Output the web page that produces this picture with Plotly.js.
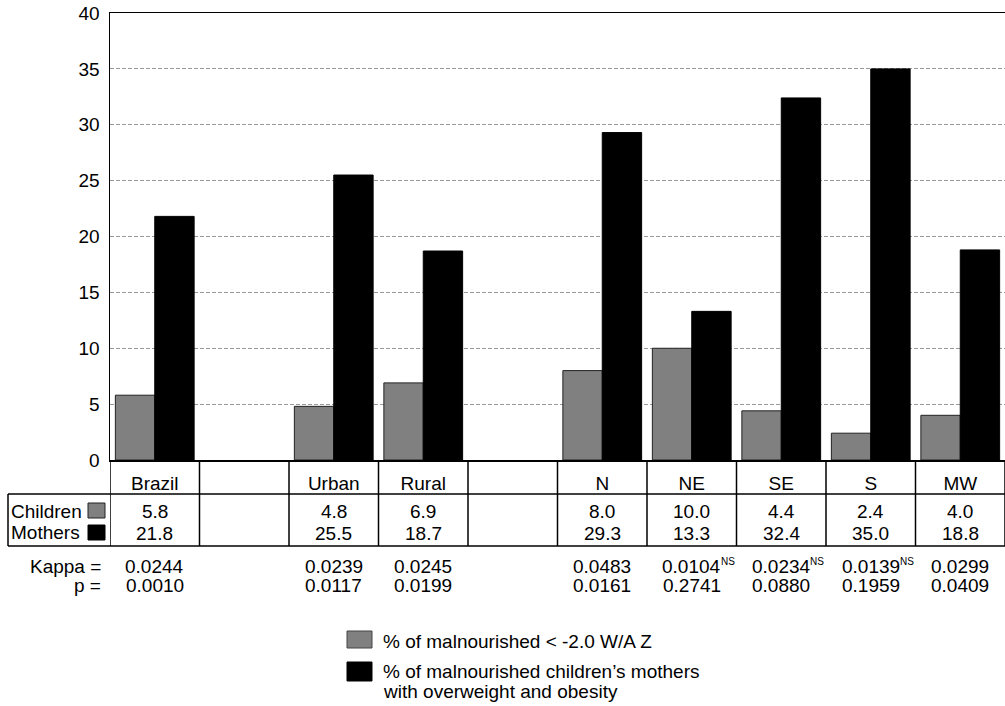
<!DOCTYPE html>
<html>
<head>
<meta charset="utf-8">
<script src="https://cdn.plot.ly/plotly-3.0.1.min.js"></script>
<style>
  html, body { margin: 0; padding: 0; background: #fff; }
  #chart { width: 1005px; height: 706px; }
</style>
</head>
<body>
<div id="chart"></div>
<script>
// ---- data ----
var categories = ["Brazil", " ", "Urban", "Rural", "  ", "N", "NE", "SE", "S", "MW"];
var children = [5.8, null, 4.8, 6.9, null, 8.0, 10.0, 4.4, 2.4, 4.0];
var mothers = [21.8, null, 25.5, 18.7, null, 29.3, 13.3, 32.4, 35.0, 18.8];
var childrenText = ["5.8", "", "4.8", "6.9", "", "8.0", "10.0", "4.4", "2.4", "4.0"];
var mothersText = ["21.8", "", "25.5", "18.7", "", "29.3", "13.3", "32.4", "35.0", "18.8"];
var kappa = ["0.0244", "", "0.0239", "0.0245", "", "0.0483", "0.0104", "0.0234", "0.0139", "0.0299"];
var kappaNS = [false, false, false, false, false, false, true, true, true, false];
var pValues = ["0.0010", "", "0.0117", "0.0199", "", "0.0161", "0.2741", "0.0880", "0.1959", "0.0409"];
var yTicks = [0, 5, 10, 15, 20, 25, 30, 35, 40];
var seriesNames = ["% of malnourished < -2.0 W/A Z",
                   "% of malnourished children\u2019s mothers<br>with overweight and obesity"];
var seriesColors = ["#808080", "#000000"];

// ---- layout geometry (pixels -> paper) ----
var W = 1005, H = 706;
var mL = 110, mR = 0, mT = 13, mB = 246;
var plotW = W - mL - mR, plotH = H - mT - mB;
var axisY = H - mB; // pixel y of y=0
function py(p) { return (axisY - p) / plotH; }
function px(p) { return (p - mL) / plotW; }

var FONT = "Liberation Sans, Arial, sans-serif";
var FS = 19;
function txtFont(sz) { return { size: sz || FS, color: "#000", family: FONT }; }

var traces = [
  {
    type: "bar", x: categories, y: children, name: seriesNames[0],
    marker: { color: seriesColors[0], line: { color: "#222", width: 1 } },
    hoverinfo: "x+y", showlegend: false
  },
  {
    type: "bar", x: categories, y: mothers, name: seriesNames[1],
    marker: { color: seriesColors[1], line: { color: "#000", width: 1 } },
    hoverinfo: "x+y", showlegend: false
  }
];

var annotations = [];
var shapes = [];
var n = categories.length;
var labelled = categories.filter(function (c) { return c.trim() !== ""; });

function addText(xref, x, y, text, xanchor, extra) {
  if (!text) return;
  var a = { xref: xref, yref: "paper", x: x, y: y, text: text, showarrow: false,
    font: txtFont(), xanchor: xanchor || "center", yanchor: "middle" };
  if (extra) for (var key in extra) a[key] = extra[key];
  annotations.push(a);
}

for (var i = 0; i < n; i++) {
  var c = categories[i];
  addText("x", c, py(511), childrenText[i]);
  addText("x", c, py(533), mothersText[i]);
  addText("x", c, py(566), kappa[i]);
  if (kappaNS[i]) {
    addText("x", c, py(561.5), "NS", "left", { font: txtFont(10), xshift: 27 });
  }
  addText("x", c, py(585), pValues[i]);
}

// row labels
addText("paper", px(9), py(511), "Children", "left");
addText("paper", px(9), py(532), "Mothers", "left");
addText("paper", px(103), py(566), "Kappa =", "right");
addText("paper", px(103), py(585), "p =", "right");

// table lines
var lineStyle = { color: "#000", width: 1.5 };
for (var k = 0; k <= n; k++) {
  shapes.push({ type: "line", xref: "x", yref: "paper", x0: k - 0.5, x1: k - 0.5,
    y0: 0, y1: py(546), line: lineStyle });
}
shapes.push({ type: "line", xref: "paper", yref: "paper", x0: px(8), x1: 1, y0: py(494), y1: py(494), line: lineStyle });
shapes.push({ type: "line", xref: "paper", yref: "paper", x0: px(8), x1: 1, y0: py(546), y1: py(546), line: lineStyle });
shapes.push({ type: "line", xref: "paper", yref: "paper", x0: px(8), x1: px(8), y0: py(494), y1: py(546), line: lineStyle });
// row label swatches
shapes.push({ type: "rect", xref: "paper", yref: "paper", x0: px(88), x1: px(105), y0: py(518), y1: py(503),
  fillcolor: seriesColors[0], line: { color: "#222", width: 1 } });
shapes.push({ type: "rect", xref: "paper", yref: "paper", x0: px(88), x1: px(105), y0: py(540), y1: py(525),
  fillcolor: seriesColors[1], line: { color: "#000", width: 1 } });

// legend (drawn as swatches + labels below the table)
var legendRows = [{ top: 631, bottom: 648, textY: 641 }, { top: 662, bottom: 681, textY: 671 }];
for (var s = 0; s < seriesNames.length; s++) {
  shapes.push({ type: "rect", xref: "paper", yref: "paper", x0: px(347), x1: px(372),
    y0: py(legendRows[s].bottom), y1: py(legendRows[s].top),
    fillcolor: seriesColors[s], line: { color: s === 0 ? "#444" : "#000", width: 1 } });
  var lines = seriesNames[s].split("<br>");
  for (var j = 0; j < lines.length; j++) {
    addText("paper", px(381), py(legendRows[s].textY + 20 * j), lines[j], "left");
  }
}

var layout = {
  width: W, height: H,
  margin: { l: mL, r: mR, t: mT, b: mB, pad: 0 },
  paper_bgcolor: "#fff", plot_bgcolor: "#fff",
  font: { family: FONT, color: "#000", size: FS },
  barmode: "group", bargap: 0.12, bargroupgap: 0,
  xaxis: {
    type: "category", categoryorder: "array", categoryarray: categories,
    range: [-0.5, n - 0.5],
    tickvals: labelled, ticktext: labelled,
    showline: true, linecolor: "#000", linewidth: 1.5, mirror: true,
    showgrid: false, zeroline: false,
    ticks: "outside", ticklen: 6, tickcolor: "rgba(0,0,0,0)",
    tickfont: txtFont(),
    fixedrange: true
  },
  yaxis: {
    range: [0, 40], tickvals: yTicks, ticktext: yTicks.map(String),
    showline: true, linecolor: "#000", linewidth: 1.5,
    showgrid: true, gridcolor: "#9a9a9a", gridwidth: 1, griddash: "4px,2px",
    zeroline: false,
    ticks: "outside", ticklen: 5, tickcolor: "rgba(0,0,0,0)",
    tickfont: txtFont(),
    fixedrange: true
  },
  showlegend: false,
  annotations: annotations,
  shapes: shapes
};

Plotly.newPlot("chart", traces, layout, { displayModeBar: false, staticPlot: true });
</script>
</body>
</html>
